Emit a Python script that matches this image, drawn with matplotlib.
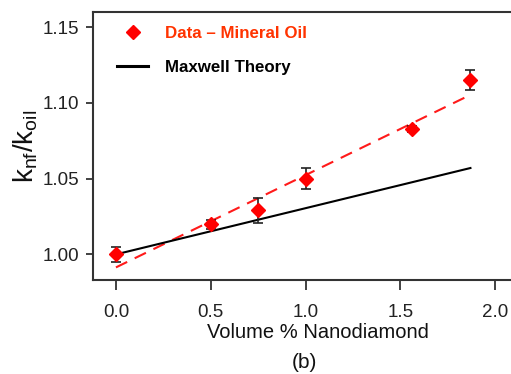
import matplotlib
matplotlib.use('Agg')
import matplotlib.pyplot as plt
from matplotlib.lines import Line2D
import numpy as np

# Measured data (volume % nanodiamond vs conductivity ratio).
vol_pct = [0.0, 0.5, 0.75, 1.0, 1.56, 1.87]
k_ratio = [1.000, 1.020, 1.029, 1.050, 1.083, 1.115]
k_err = [0.005, 0.003, 0.008, 0.007, 0.002, 0.0066]

# Linear trend through the data (dashed) and Maxwell prediction (solid).
fit_x = [0.0, 1.87]
fit_y = [0.9914, 1.1053]
maxwell_x = [0.0, 1.87]
maxwell_y = [1.000, 1.057]

x_ticks = [0.0, 0.5, 1.0, 1.5, 2.0]
y_ticks = [1.00, 1.05, 1.10, 1.15]

plt.rcParams['font.family'] = ['Liberation Sans', 'DejaVu Sans']
plt.rcParams['mathtext.default'] = 'regular'

fig = plt.figure(figsize=(5.11, 3.74), dpi=100)
ax = fig.add_axes([0.182, 0.251, 0.818, 0.717])

ax.plot(fit_x, fit_y, color='#ff1a1a', lw=1.5, ls=(0, (6, 4)), zorder=2)
ax.plot(maxwell_x, maxwell_y, color='black', lw=1.5, zorder=2)
ax.errorbar(vol_pct, k_ratio, yerr=k_err, fmt='none', ecolor='#222222',
            elinewidth=1.2, capsize=3.5, capthick=1.2, zorder=3)
ax.plot(vol_pct, k_ratio, ls='none', marker='D', ms=7, color='red',
        mec='red', zorder=4)

ax.set_xlim(-0.121, 2.084)
ax.set_ylim(0.983, 1.160)
ax.set_xticks(x_ticks)
ax.set_xticklabels([f'{v:.1f}' for v in x_ticks])
ax.set_yticks(y_ticks)
ax.set_yticklabels([f'{v:.2f}' for v in y_ticks])

for s in ['left', 'top', 'bottom']:
    ax.spines[s].set_color('#333333')
    ax.spines[s].set_linewidth(1.5)
ax.spines['right'].set_visible(False)

ax.tick_params(axis='both', direction='out', colors='#333333',
               labelcolor='#222222', labelsize=13.5, width=1.3)
ax.tick_params(axis='y', length=5, pad=5)
ax.tick_params(axis='x', length=7, pad=10)

ax.set_xlabel('Volume % Nanodiamond', fontsize=14.5, color='#111111')
ax.xaxis.set_label_coords(0.538, -0.16)
ax.set_ylabel(r'$k_{nf}/k_{oil}$', fontsize=20, color='#111111', labelpad=2)
fig.text(0.595, 0.032, '(b)', fontsize=15, color='#111111',
         ha='center', va='center')

handles = [Line2D([], [], ls='none', marker='D', ms=7, color='red'),
           Line2D([], [], color='black', lw=2.2)]
leg = ax.legend(handles, ['Data – Mineral Oil', 'Maxwell Theory'],
                loc='upper left', bbox_to_anchor=(24 / 418, 0.948),
                frameon=False, borderpad=0, borderaxespad=0,
                handlelength=1.83, handletextpad=1.0, labelspacing=1.15,
                prop={'size': 12.2, 'weight': 'bold'})
leg.get_texts()[0].set_color('#ff3300')

fig.savefig('out.png', dpi=100)
